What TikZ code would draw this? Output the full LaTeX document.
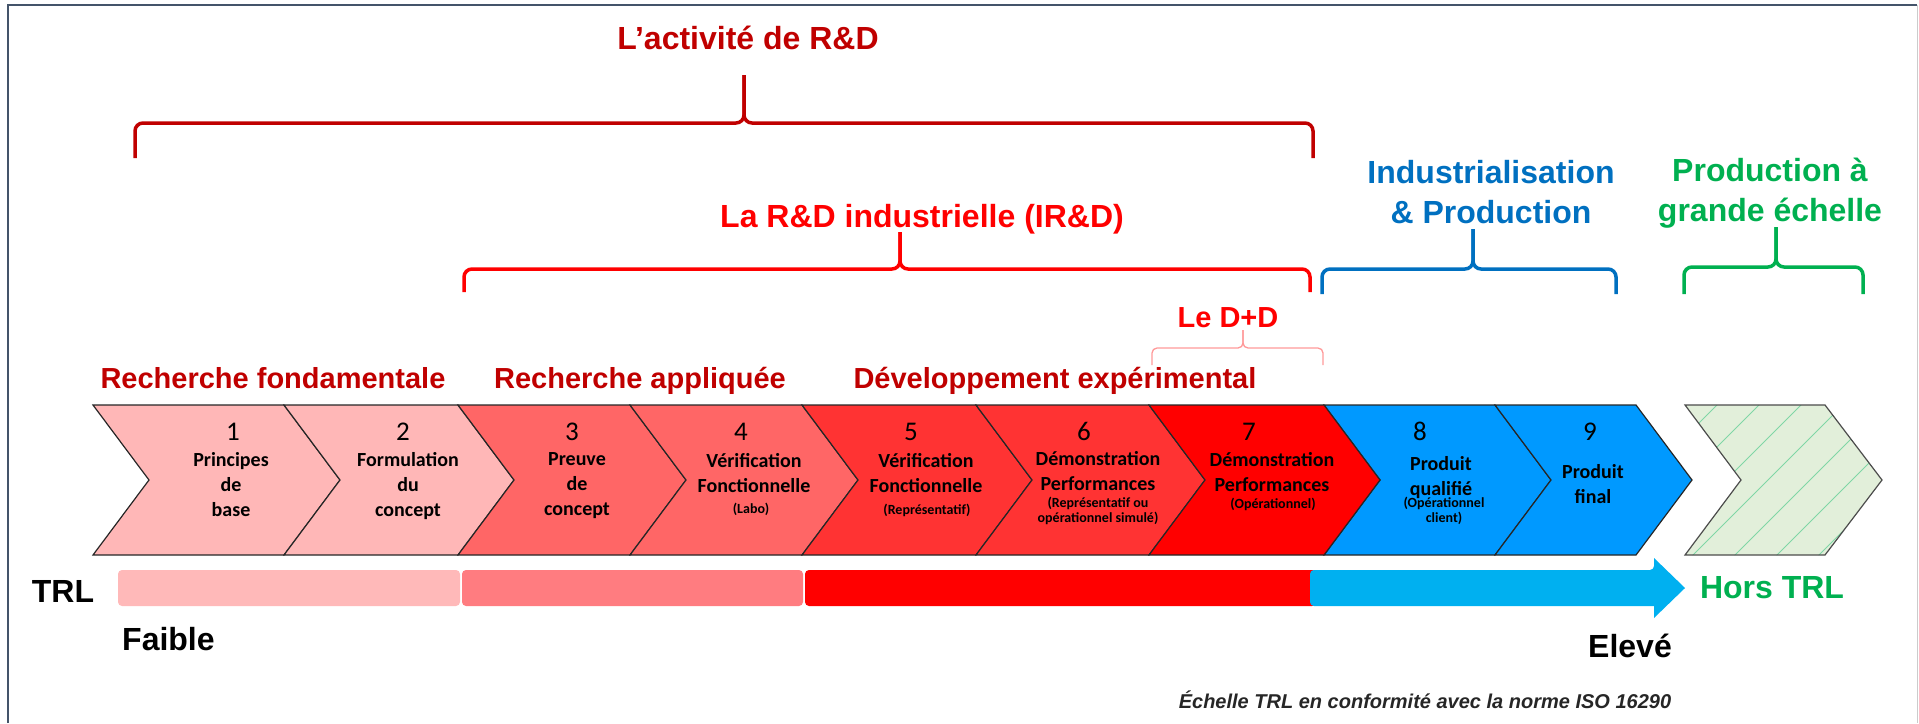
\documentclass[tikz,border=0pt]{standalone}
\usepackage{fontspec}
\setmainfont{Liberation Sans}
\newfontfamily\chevfont{Carlito}

\definecolor{rddark}{HTML}{C00000}
\definecolor{rdred}{HTML}{FF0000}
\definecolor{rdblue}{HTML}{0070C0}
\definecolor{rdgreen}{HTML}{00B050}
\definecolor{rdpink}{HTML}{FF9999}
\definecolor{chA}{HTML}{FFB7B7}
\definecolor{chB}{HTML}{FF6666}
\definecolor{chC}{HTML}{FF3333}
\definecolor{chD}{HTML}{FF0000}
\definecolor{chE}{HTML}{0099FF}
\definecolor{chF}{HTML}{E2EFDA}
\definecolor{hatchcol}{HTML}{7FD6A6}
\definecolor{barA}{HTML}{FFB9B9}
\definecolor{barB}{HTML}{FF7C80}
\definecolor{barC}{HTML}{FF0000}
\definecolor{barD}{HTML}{00B0F0}
\definecolor{framecol}{HTML}{44546A}

\newcommand{\chev}[3]{\draw[chevline,fill=#3] (#1,405) -- (#2,405) -- ({#2+56},480) -- (#2,555) -- (#1,555) -- ({#1+56},480) -- cycle;}
\newcommand{\rdbrace}[7]{%
  \draw[#1] (#2,#6) -- (#2,#5) -- (#4,#5) -- (#4,#7);
  \draw[#1] (#3,#6) -- (#3,#5) -- (#4,#5) -- (#4,#7);}

\tikzset{
  chevline/.style={draw=black!85, line width=1.2pt},
  numtxt/.style={font=\chevfont\fontsize{27}{30}\selectfont, inner sep=0pt, anchor=base},
  chevtxt/.style={font=\chevfont\bfseries\fontsize{20}{25}\selectfont, align=center, inner sep=0pt, anchor=north},
  smtxt/.style={font=\chevfont\bfseries\fontsize{14}{15}\selectfont, align=center, inner sep=0pt, anchor=north},
  head/.style={font=\bfseries\fontsize{32}{40}\selectfont, inner sep=0pt, align=center},
  sub/.style={font=\bfseries\fontsize{29}{35}\selectfont, inner sep=0pt, anchor=base},
  lab/.style={font=\bfseries\fontsize{32}{38}\selectfont, inner sep=0pt},
  bigbrace/.style={line width=3.5pt, rounded corners=8pt},
  thinbrace/.style={rdpink, line width=1.3pt, rounded corners=5pt}
}

\begin{document}
\begin{tikzpicture}[x=1pt,y=-1pt]
\useasboundingbox (0,0) rectangle (1919,723);
\draw[framecol, line width=2pt] (8,723) -- (8,5) -- (1917,5);
\draw[black!20, line width=1pt] (1917,5) -- (1917,723);

\rdbrace{bigbrace, rddark}{135}{1313}{744}{123}{158}{75}
\rdbrace{bigbrace, rdred}{464}{1310}{900}{269}{292}{232}
\rdbrace{bigbrace, rdblue}{1322}{1616}{1473}{269}{294}{229}
\rdbrace{bigbrace, rdgreen}{1684}{1863}{1776}{267}{294}{227}
\rdbrace{thinbrace}{1152}{1323}{1243}{348}{365}{330}

\node[head, rddark, anchor=base] (act) at (748,49) {L’activité de R\&D};
\node[head, rdred, anchor=base] (ird) at (922,227) {La R\&D industrielle (IR\&D)};
\node[head, rdblue, anchor=north] (indus) at (1491,160) {Industrialisation\\\& Production};
\node[head, rdgreen, anchor=north] (grande) at (1770,158) {Production à\\grande échelle};
\node[sub, rdred] (dd) at (1228,327) {Le D+D};
\node[sub, rddark] (fond) at (273,388) {Recherche fondamentale};
\node[sub, rddark] (appl) at (640,388) {Recherche appliquée};
\node[sub, rddark] (dev) at (1055,388) {Développement expérimental};

\chev{93}{284}{chA}
\chev{284}{458}{chA}
\chev{458}{630}{chB}
\chev{630}{802}{chB}
\chev{802}{976}{chC}
\chev{976}{1149}{chC}
\chev{1324}{1495}{chE}
\chev{1495}{1636}{chE}
\chev{1149}{1324}{chD}

\begin{scope}
\clip (1685,405) -- (1825,405) -- (1882,480) -- (1825,555) -- (1685,555) -- (1741,480) -- cycle;
\fill[chF] (1600,400) rectangle (1900,560);
\foreach \k in {0,...,9}
  \draw[hatchcol, line width=1pt] ({1520+\k*42},560) -- ++(160,-160);
\end{scope}
\draw[chevline, draw=black!70] (1685,405) -- (1825,405) -- (1882,480) -- (1825,555) -- (1685,555) -- (1741,480) -- cycle;

\node[numtxt] (n1) at (233,440) {1};
\node[numtxt] (n2) at (403,440) {2};
\node[numtxt] (n3) at (572,440) {3};
\node[numtxt] (n4) at (741,440) {4};
\node[numtxt] (n5) at (911,440) {5};
\node[numtxt] (n6) at (1084,440) {6};
\node[numtxt] (n7) at (1249,440) {7};
\node[numtxt] (n8) at (1420,440) {8};
\node[numtxt] (n9) at (1590,440) {9};

\node[chevtxt] (t1) at (231,452) {Principes\\de\\base};
\node[chevtxt] (t2) at (408,452) {Formulation\\du\\concept};
\node[chevtxt] (t3) at (577,452) {Preuve\\de\\concept};
\node[chevtxt] (t4) at (754,453) {Vérification\\Fonctionnelle};
\node[chevtxt] (t5) at (926,453) {Vérification\\Fonctionnelle};
\node[chevtxt] (t6) at (1098,451) {Démonstration\\Performances};
\node[chevtxt] (t7) at (1272,452) {Démonstration\\Performances};
\node[chevtxt] (t8) at (1441,456) {Produit\\qualifié};
\node[chevtxt] (t9) at (1593,464) {Produit\\final};

\node[smtxt] (s4) at (751,503) {(Labo)};
\node[smtxt] (s5) at (927,504) {(Représentatif)};
\node[smtxt] (s6) at (1098,497) {(Représentatif ou\\opérationnel simulé)};
\node[smtxt] (s7) at (1273,498) {(Opérationnel)};
\node[smtxt] (s8) at (1444,497) {(Opérationnel\\client)};

\fill[barA, rounded corners=4pt] (118,570) rectangle (460,606);
\fill[barB, rounded corners=4pt] (462,570) rectangle (803,606);
\fill[barC, rounded corners=4pt] (805,570) rectangle (1316,606);
\fill[barD, rounded corners=4pt] (1654,606) -- (1310,606) -- (1310,570) -- (1654,570) [sharp corners] -- (1654,558) -- (1685,588) -- (1654,618) -- cycle;

\node[lab, anchor=base] (trl) at (63,602) {TRL};
\node[lab, anchor=base west] (faible) at (122,650) {Faible};
\node[lab, anchor=base] (eleve) at (1630,657) {Elevé};
\node[lab, rdgreen, anchor=base] (hors) at (1772,598) {Hors TRL};
\node[font=\bfseries\itshape\fontsize{20}{24}\selectfont, text=black!85, inner sep=0pt, anchor=base] (iso) at (1425,708) {Échelle TRL en conformité avec la norme ISO 16290};
\end{tikzpicture}
\end{document}
